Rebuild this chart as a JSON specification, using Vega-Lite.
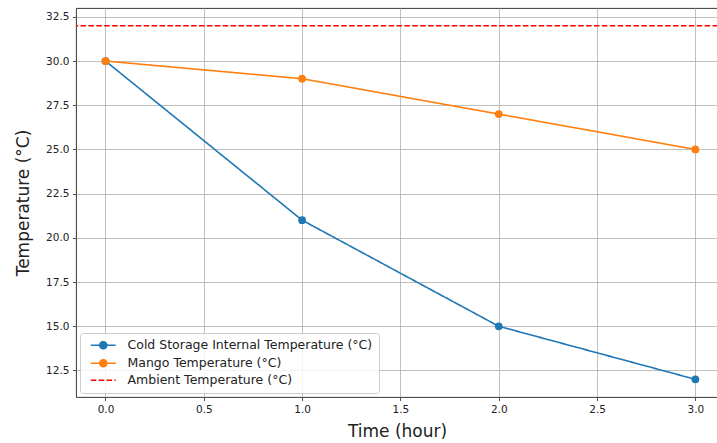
{
  "$schema": "https://vega.github.io/schema/vega-lite/v6.json",
  "autosize": {"type": "none"},
  "padding": {"left": 76, "top": 8, "right": 0, "bottom": 46},
  "width": 642,
  "height": 389,
  "background": "white",
  "config": {
    "font": "DejaVu Sans",
    "view": {"stroke": "#222222", "strokeWidth": 0.9},
    "axis": {
      "domain": false,
      "grid": true,
      "gridColor": "#b0b0b0",
      "gridWidth": 0.8,
      "tickColor": "#222222",
      "tickSize": 3.5,
      "tickWidth": 0.8,
      "labelFont": "DejaVu Sans",
      "labelFontSize": 10.5,
      "labelColor": "#222222",
      "labelPadding": 3.5,
      "titleFont": "DejaVu Sans",
      "titleFontSize": 17,
      "titleFontWeight": "normal",
      "titleColor": "#222222"
    }
  },
  "data": {
    "values": [
      {"series": "Cold Storage Internal Temperature (°C)", "time": 0, "temp": 30},
      {"series": "Cold Storage Internal Temperature (°C)", "time": 1, "temp": 21},
      {"series": "Cold Storage Internal Temperature (°C)", "time": 2, "temp": 15},
      {"series": "Cold Storage Internal Temperature (°C)", "time": 3, "temp": 12},
      {"series": "Mango Temperature (°C)", "time": 0, "temp": 30},
      {"series": "Mango Temperature (°C)", "time": 1, "temp": 29},
      {"series": "Mango Temperature (°C)", "time": 2, "temp": 27},
      {"series": "Mango Temperature (°C)", "time": 3, "temp": 25},
      {"series": "Ambient Temperature (°C)", "time": null, "temp": 32}
    ]
  },
  "encoding": {
    "x": {
      "field": "time", "type": "quantitative",
      "scale": {"domain": [-0.15, 3.115], "nice": false, "zero": false},
      "axis": {"values": [0, 0.5, 1, 1.5, 2, 2.5, 3], "format": ".1f", "title": "Time (hour)", "titlePadding": 9}
    },
    "y": {
      "field": "temp", "type": "quantitative",
      "scale": {"domain": [11, 33], "nice": false, "zero": false},
      "axis": {"values": [12.5, 15, 17.5, 20, 22.5, 25, 27.5, 30, 32.5], "format": ".1f", "title": "Temperature (°C)", "titlePadding": 13}
    },
    "color": {
      "field": "series", "type": "nominal",
      "scale": {
        "domain": ["Cold Storage Internal Temperature (°C)", "Mango Temperature (°C)", "Ambient Temperature (°C)"],
        "range": ["#1f77b4", "#ff7f0e", "#ff0000"]
      },
      "legend": {
        "title": null,
        "orient": "bottom-left",
        "offset": 4,
        "padding": 6,
        "fillColor": "rgba(255,255,255,0.8)",
        "strokeColor": "#cccccc",
        "cornerRadius": 3,
        "symbolSize": 100,
        "rowPadding": 4,
        "labelOffset": 29,
        "labelLimit": 500,
        "labelFontSize": 12.5,
        "labelFont": "DejaVu Sans",
        "labelColor": "#222222",
        "encode": {
          "symbols": {
            "update": {
              "stroke": {"scale": "color", "field": "value"},
              "strokeWidth": {"value": 1.6},
              "shape": {"signal": "datum.value === 'Ambient Temperature (°C)' ? 'M-0.3,0H4.7' : 'M-0.3,0H4.7M1.5,0A0.7,0.7,0,1,1,2.9,0A0.7,0.7,0,1,1,1.5,0Z'"}
            }
          }
        }
      }
    },
    "strokeDash": {
      "field": "series", "type": "nominal",
      "scale": {
        "domain": ["Cold Storage Internal Temperature (°C)", "Mango Temperature (°C)", "Ambient Temperature (°C)"],
        "range": [[1, 0], [1, 0], [5.5, 2.4]]
      },
      "legend": {"title": null}
    }
  },
  "layer": [
    {
      "transform": [{"filter": "datum.series !== 'Ambient Temperature (°C)'"}],
      "mark": {"type": "line", "strokeWidth": 1.6}
    },
    {
      "transform": [{"filter": "datum.series !== 'Ambient Temperature (°C)'"}],
      "mark": {"type": "point", "filled": true, "shape": "circle", "size": 60, "opacity": 1}
    },
    {
      "transform": [{"filter": "datum.series === 'Ambient Temperature (°C)'"}],
      "mark": {"type": "rule", "strokeWidth": 1.6},
      "encoding": {"x": null}
    }
  ]
}
